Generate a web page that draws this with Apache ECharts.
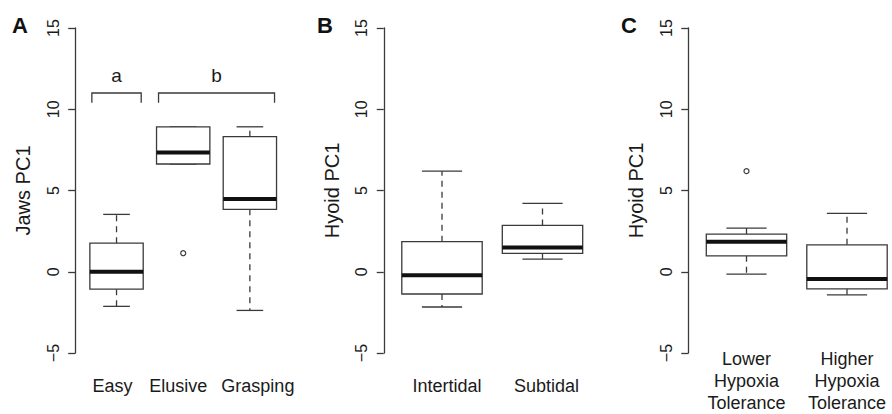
<!DOCTYPE html>
<html>
<head>
<meta charset="utf-8">
<script src="https://cdn.jsdelivr.net/npm/echarts@6/dist/echarts.min.js"></script>
<style>
  html, body { margin: 0; padding: 0; background: #fff; }
  #main { width: 892px; height: 414px; }
</style>
</head>
<body>
<div id="main"></div>
<script>
// box stats: [lower whisker, Q1, median, Q3, upper whisker]
const jawsGroups = ['Easy', 'Elusive', 'Grasping'];
const jawsStats = [
	[-2.13, -1.07, 0.0, 1.76, 3.53],
	[6.63, 6.63, 7.34, 8.92, 8.92],
	[-2.38, 3.84, 4.47, 8.31, 8.92]
];
const jawsOutliers = [[1, 1.14]];

const habitatGroups = ['Intertidal', 'Subtidal'];
const habitatStats = [
	[-2.17, -1.37, -0.21, 1.85, 6.19],
	[0.78, 1.13, 1.50, 2.85, 4.21]
];

const hypoxiaGroups = ['Lower\nHypoxia\nTolerance', 'Higher\nHypoxia\nTolerance'];
const hypoxiaStats = [
	[-0.14, 0.98, 1.85, 2.32, 2.69],
	[-1.42, -1.05, -0.45, 1.66, 3.59]
];
const hypoxiaOutliers = [[0, 6.19]];

// significance brackets in panel A: [first group, last group, level]
const bracketLabels = ['a', 'b'];
const bracketSpans = [[0, 0, 11], [1, 2, 11]];

const yTicks = { min: -5, max: 15, interval: 5 };

function drawChart(eleID) {
	var dom = document.getElementById(eleID);
	var myChart = echarts.init(dom, null, { renderer: 'svg' });

	var font = 'Liberation Sans, Arial, Helvetica, sans-serif';
	var lineColor = '#3a3a3a';
	var textColor = '#1a1a1a';

	function renderBox(params, api) {
		var i = api.value(0);
		var lo = api.coord([i, api.value(1)]);
		var q1 = api.coord([i, api.value(2)]);
		var med = api.coord([i, api.value(3)]);
		var q3 = api.coord([i, api.value(4)]);
		var hi = api.coord([i, api.value(5)]);
		var band = api.size([1, 0])[0];
		var cx = lo[0];
		var half = band * 0.4;
		var cap = band * 0.2;
		var solid = { stroke: lineColor, lineWidth: 1.3, fill: null };
		var dashed = { stroke: lineColor, lineWidth: 1.3, lineDash: [6, 5], fill: null };
		return {
			type: 'group',
			children: [
				{ type: 'line', shape: { x1: cx, y1: q3[1], x2: cx, y2: hi[1] }, style: dashed },
				{ type: 'line', shape: { x1: cx, y1: q1[1], x2: cx, y2: lo[1] }, style: dashed },
				{ type: 'line', shape: { x1: cx - cap, y1: hi[1], x2: cx + cap, y2: hi[1] }, style: solid },
				{ type: 'line', shape: { x1: cx - cap, y1: lo[1], x2: cx + cap, y2: lo[1] }, style: solid },
				{ type: 'rect', shape: { x: cx - half, y: q3[1], width: half * 2, height: q1[1] - q3[1] },
					style: { stroke: lineColor, lineWidth: 1.3, fill: '#fff' } },
				{ type: 'line', shape: { x1: cx - half, y1: med[1], x2: cx + half, y2: med[1] },
					style: { stroke: '#111', lineWidth: 4 } }
			]
		};
	}

	function renderBracket(params, api) {
		var a = api.coord([api.value(0), api.value(2)]);
		var b = api.coord([api.value(1), api.value(2)]);
		var foot = api.coord([api.value(0), api.value(2) - 0.6]);
		var lab = api.coord([api.value(0), api.value(2) + 1.1]);
		var band = api.size([1, 0])[0];
		var x1 = a[0] - band * 0.37;
		var x2 = b[0] + band * 0.37;
		return {
			type: 'group',
			children: [
				{ type: 'polyline', shape: { points: [[x1, foot[1]], [x1, a[1]], [x2, a[1]], [x2, foot[1]]] },
					style: { stroke: lineColor, lineWidth: 1.3, fill: null } },
				{ type: 'text', style: { x: (x1 + x2) / 2, y: lab[1], text: bracketLabels[params.dataIndex],
					font: '19px ' + font, fill: textColor, align: 'center', verticalAlign: 'middle' } }
			]
		};
	}

	function boxData(stats) {
		return stats.map(function (s, i) { return [i].concat(s); });
	}

	var grids = [
		{ left: 83.2, width: 200, top: 28, height: 325 },
		{ left: 391.75, width: 201, top: 28, height: 325 },
		{ left: 696.25, width: 201, top: 28, height: 325 }
	];
	grids.forEach(function (g) { g.outerBoundsMode = 'none'; g.containLabel = false; });

	var groups = [jawsGroups, habitatGroups, hypoxiaGroups];
	var yNames = ['Jaws PC1', 'Hyoid PC1', 'Hyoid PC1'];
	// small nudges so the group labels sit where they do in the figure
	var labelShift = [[-4, -5, 8], [5, 4], [0, 0]];

	var xAxes = groups.map(function (g, k) {
		var rich = {};
		labelShift[k].forEach(function (s, i) {
			rich['l' + i] = {
				fontSize: 18, fontFamily: font, color: textColor, lineHeight: 22,
				padding: s >= 0 ? [0, 0, 0, 2 * s] : [0, -2 * s, 0, 0]
			};
		});
		return {
			type: 'category',
			gridIndex: k,
			data: g,
			axisLine: { show: false },
			axisTick: { show: false },
			axisLabel: {
				interval: 0,
				margin: k === 2 ? -5 : 22,
				fontSize: 18,
				lineHeight: 22,
				fontFamily: font,
				color: textColor,
				rich: rich,
				formatter: function (v, i) {
					return v.split('\n').map(function (t) { return '{l' + i + '|' + t + '}'; }).join('\n');
				}
			}
		};
	});

	var yAxes = yNames.map(function (n, k) {
		return {
			type: 'value',
			gridIndex: k,
			min: yTicks.min,
			max: yTicks.max,
			interval: yTicks.interval,
			offset: 8,
			name: n,
			nameLocation: 'middle',
			nameRotate: 90,
			nameGap: 42,
			nameTextStyle: { fontSize: 20, fontFamily: font, color: textColor },
			splitLine: { show: false },
			axisLine: { show: true, lineStyle: { color: lineColor, width: 1.3 } },
			axisTick: { show: true, length: 7, lineStyle: { color: lineColor, width: 1.3 } },
			axisLabel: {
				rotate: 90,
				margin: 14,
				fontSize: 16,
				fontFamily: font,
				color: textColor,
				formatter: function (v) { return v < 0 ? '\u2212' + Math.abs(v) : String(v); }
			}
		};
	});

	var outlierStyle = { color: '#fff', borderColor: lineColor, borderWidth: 1.2, opacity: 1 };

	var option = {
		animation: false,
		backgroundColor: '#fff',
		title: ['A', 'B', 'C'].map(function (t, k) {
			return {
				text: t,
				left: [12, 317, 621][k],
				top: 14,
				padding: 0,
				textStyle: { fontSize: 22, fontWeight: 'bold', fontFamily: font, color: '#111' }
			};
		}),
		grid: grids,
		xAxis: xAxes,
		yAxis: yAxes,
		series: [
			{ type: 'custom', xAxisIndex: 0, yAxisIndex: 0, renderItem: renderBox,
				encode: { x: 0, y: [1, 2, 3, 4, 5] }, data: boxData(jawsStats) },
			{ type: 'custom', xAxisIndex: 1, yAxisIndex: 1, renderItem: renderBox,
				encode: { x: 0, y: [1, 2, 3, 4, 5] }, data: boxData(habitatStats) },
			{ type: 'custom', xAxisIndex: 2, yAxisIndex: 2, renderItem: renderBox,
				encode: { x: 0, y: [1, 2, 3, 4, 5] }, data: boxData(hypoxiaStats) },
			{ type: 'custom', xAxisIndex: 0, yAxisIndex: 0, renderItem: renderBracket,
				encode: { x: [0, 1], y: 2 }, data: bracketSpans },
			{ type: 'scatter', xAxisIndex: 0, yAxisIndex: 0, symbol: 'circle', symbolSize: 5,
				itemStyle: outlierStyle, data: jawsOutliers },
			{ type: 'scatter', xAxisIndex: 2, yAxisIndex: 2, symbol: 'circle', symbolSize: 5,
				itemStyle: outlierStyle, data: hypoxiaOutliers }
		]
	};

	myChart.setOption(option);
	window.addEventListener('resize', myChart.resize);
}

drawChart('main');
</script>
</body>
</html>
